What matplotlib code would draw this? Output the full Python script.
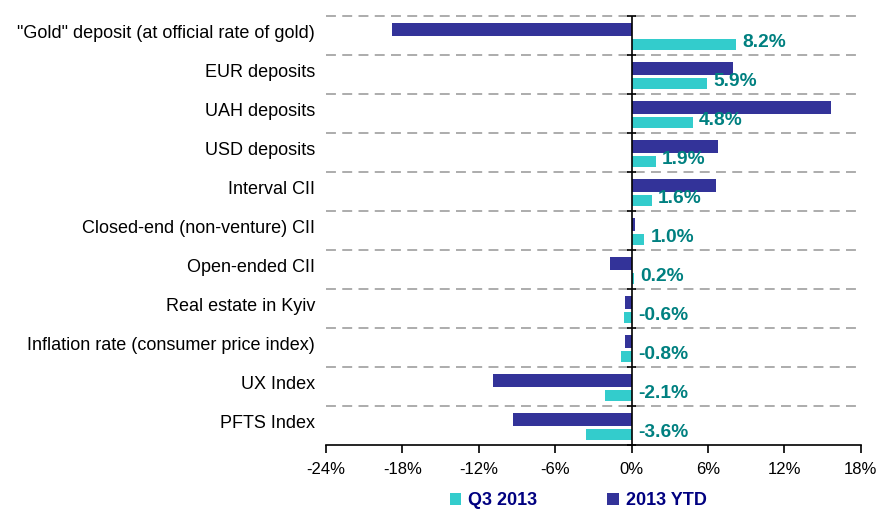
import matplotlib
matplotlib.use("Agg")
import matplotlib.pyplot as plt
from matplotlib.patches import Patch

plt.rcParams['font.family'] = ['Liberation Sans', 'DejaVu Sans']

categories = ['"Gold" deposit (at official rate of gold)', 'EUR deposits', 'UAH deposits',
              'USD deposits', 'Interval CII', 'Closed-end (non-venture) CII', 'Open-ended CII',
              'Real estate in Kyiv', 'Inflation rate (consumer price index)', 'UX Index', 'PFTS Index']
q3_2013 = [8.2, 5.9, 4.8, 1.9, 1.6, 1.0, 0.2, -0.6, -0.8, -2.1, -3.6]
ytd_2013 = [-18.8, 8.0, 15.7, 6.8, 6.6, 0.3, -1.7, -0.5, -0.55, -10.9, -9.3]
xticks = [-24, -18, -12, -6, 0, 6, 12, 18]

c_q3 = '#33CCCC'
c_ytd = '#333399'
c_lab = '#008080'
c_leg = '#000080'

fig = plt.figure(figsize=(8.8, 5.16), dpi=100)
ax = fig.add_axes([0.3705, 0.1376, 0.6075, 0.8314])

n = len(categories)
idx = list(range(n))
ax.barh([i - 0.15 for i in idx], ytd_2013, height=0.325, color=c_ytd, zorder=3)
ax.barh([i + 0.235 for i in idx], q3_2013, height=0.275, color=c_q3, zorder=3)

ax.set_xlim(-24, 18)
ax.set_ylim(n - 0.5, -0.5)

# category separators
bounds = [i - 0.5 for i in range(n)]
for b in bounds:
    ax.axhline(b, color='#a6a6a6', lw=1.3, linestyle=(0, (5.5, 3.5)), zorder=1, clip_on=False)
ax.axvline(0, color='black', lw=1.2, zorder=4)
ax.hlines(bounds + [n - 0.5], -0.35, 0.35, color='black', lw=1.2, zorder=4, clip_on=False)

for s in ['top', 'right', 'left']:
    ax.spines[s].set_visible(False)
ax.spines['bottom'].set_linewidth(1.2)

ax.set_yticks([i - 0.1 for i in idx])
ax.set_yticklabels(categories, fontsize=13)
ax.tick_params(axis='y', length=0, pad=8)
ax.set_xticks(xticks)
ax.set_xticklabels([f"{v}%" for v in xticks], fontsize=12)
ax.tick_params(axis='x', direction='out', length=6, width=1.2, pad=6)

for i, v in enumerate(q3_2013):
    ax.annotate(f"{v:.1f}%", xy=(max(v, 0), i + 0.18), xytext=(4.5, 0), textcoords='offset points',
                ha='left', va='center', fontsize=13.8, fontweight='bold', color=c_lab, zorder=5)

handles = [Patch(facecolor=c_q3, edgecolor='none', label='Q3 2013'),
           Patch(facecolor=c_ytd, edgecolor='none', label='2013 YTD')]
leg = fig.legend(handles=handles, loc='lower center', bbox_to_anchor=(0.657, -0.018), ncol=2,
                 frameon=False, handlelength=0.62, handleheight=0.62, handletextpad=0.39,
                 columnspacing=3.9, prop={'weight': 'bold', 'size': 13})
for t in leg.get_texts():
    t.set_color(c_leg)

fig.savefig('out.png', dpi=100)
